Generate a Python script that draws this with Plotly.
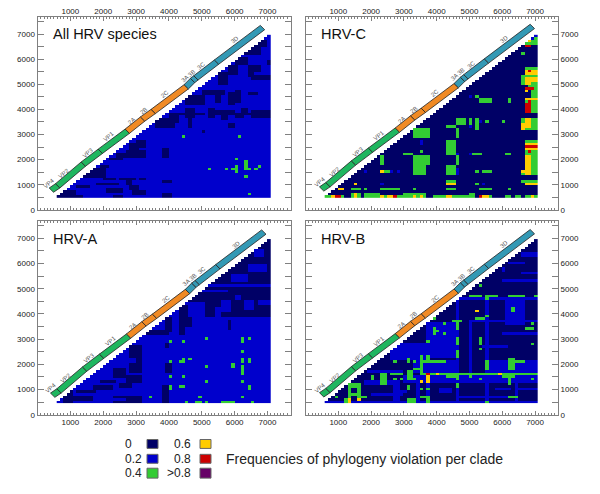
import numpy as np
import plotly.graph_objects as go

# colours for the six frequency classes
CLASS_COLORS = ['#000066', '#0000cc', '#33cc33', '#ffcc00', '#cc0000', '#660066']
LEGEND_LABELS = ['0', '0.2', '0.4', '0.6', '0.8', '>0.8']
LEGEND_TITLE = 'Frequencies of phylogeny violation per clade'
X_TICKS = [1000, 2000, 3000, 4000, 5000, 6000, 7000]
Y_TICKS = [0, 1000, 2000, 3000, 4000, 5000, 6000, 7000]

# gene map along the genome: name, end site (x), end site (y)
GENE_START = (422, 786)
GENE_ENDS = [('VP4', 615, 957), ('VP2', 1395, 1822), ('VP3', 1912, 2333), ('VP1', 2733, 3132),
             ('2A', 3199, 3617), ('2B', 3523, 3919), ('2C', 4527, 4902), ('3A', 4719, 5151),
             ('3B', 4821, 5256), ('3C', 5449, 5885), ('3D', 6848, 7261)]
GENE_COLORS = {'VP4': '#1fb65f', 'VP2': '#1fb65f', 'VP3': '#1fb65f', 'VP1': '#1fb65f',
               '2A': '#f08a24', '2B': '#f08a24', '2C': '#f08a24',
               '3A': '#3399b5', '3B': '#3399b5', '3C': '#3399b5', '3D': '#3399b5'}
GENE_LABELS = [('VP4', 361, 1061), ('VP2', 818, 1455), ('VP3', 1527, 2267), ('VP1', 2186, 2922),
               ('2A', 2865, 3538), ('2B', 3230, 3945), ('2C', 3878, 4600), ('3A 3B', 4588, 5347),
               ('3C', 4973, 5740), ('3D', 5997, 6762)]

# site labels of the matrix cells
SITES_X = list(range(600, 7100, 100))
SITES_Y = list(range(500, 7000, 100))

# each entry: x from, x to, y from, y to (sites, inclusive)
ALL_NAVY = [(600, 1300, 500, 500), (700, 1100, 600, 700), (3800, 4000, 500, 600), (1200, 1500, 900, 900),
            (2000, 2300, 1200, 1200), (1800, 2400, 1000, 1000), (2100, 2500, 700, 800), (2500, 2900, 1200, 1200),
            (2700, 2800, 1000, 1100), (2800, 3000, 800, 900), (2900, 3200, 600, 700), (2300, 2500, 500, 500),
            (3100, 3200, 1200, 1200), (3800, 4000, 1100, 1100), (1400, 2000, 1300, 1600), (1900, 2100, 1700, 1700),
            (2200, 2500, 2000, 2000), (2400, 2700, 2100, 2200), (2700, 3200, 2100, 2300), (3000, 3200, 2500, 2700),
            (2800, 3000, 2400, 2600), (3800, 3900, 2100, 2400), (3600, 4100, 3300, 3600), (4000, 4200, 3500, 3800),
            (4600, 4600, 3300, 3800), (4300, 5000, 3800, 3800), (5200, 5900, 3800, 3800), (6300, 7100, 3800, 3800),
            (4500, 4700, 3700, 4000), (5200, 5300, 3700, 4000), (5400, 5900, 3900, 3900), (5600, 5700, 3600, 3900),
            (6000, 6200, 3700, 3800), (6500, 7100, 3700, 3900), (6200, 6300, 3900, 4000), (5800, 5900, 3300, 3400),
            (5000, 5000, 3100, 3100), (5400, 5500, 4300, 4700), (5000, 5600, 4600, 4700), (5800, 5900, 4200, 4600),
            (6000, 6100, 4300, 4700), (6400, 6600, 4600, 4600), (6500, 7100, 5200, 5300), (6400, 6500, 5300, 5700),
            (6600, 6700, 5500, 5700), (7000, 7100, 5800, 5900), (6300, 6700, 6200, 6500), (6000, 6300, 5800, 6000),
            (5800, 6000, 5400, 5700), (5500, 5700, 5000, 5400), (6600, 6900, 6500, 6700), (4500, 5000, 4200, 4500)]
ALL_GREEN = [(4400, 4400, 2900, 2900), (6100, 6100, 2900, 2900), (6000, 6000, 2000, 2000), (6300, 6300, 1600, 1900),
             (6300, 6400, 1600, 1600), (5200, 5200, 1600, 1600), (5700, 5700, 1600, 1600), (6000, 6000, 1500, 1700),
             (5900, 5900, 1600, 1600), (6300, 6300, 1300, 1300), (6600, 6600, 1600, 1600), (6700, 6700, 1700, 1700),
             (6400, 6400, 600, 600)]

C_BLUE = [(6900, 7000, 6700, 6800), (7000, 7100, 6900, 7000), (3500, 3500, 2600, 2700), (3300, 3300, 1500, 1500),
          (3500, 3600, 1700, 1700), (4600, 4600, 2200, 2200), (4600, 4600, 1400, 1600), (5000, 5000, 2200, 2200),
          (5000, 5000, 4500, 4500), (2300, 2300, 1000, 1000), (1800, 1800, 1500, 1500), (2600, 2600, 1500, 1500),
          (2800, 2800, 1500, 1500), (5400, 5400, 1000, 1000), (5300, 5300, 3500, 3500), (4700, 4700, 3500, 3500),
          (5000, 5000, 3300, 3300), (6900, 6900, 1500, 1500), (7000, 7000, 1000, 1000), (6900, 6900, 3500, 3500),
          (6900, 6900, 4600, 4700)]
C_GREEN = [(6700, 7100, 6600, 6700), (7000, 7100, 6700, 6800), (6600, 6600, 6200, 6200), (6700, 7100, 5600, 5600),
           (6600, 7100, 5000, 5300), (6800, 7100, 4800, 4900), (6900, 7100, 4500, 4700), (6700, 7100, 4300, 4400),
           (6900, 7100, 3900, 4200), (6600, 7100, 3200, 3600), (6700, 7100, 2700, 2700), (6700, 7100, 2200, 2600),
           (6900, 7100, 1400, 2200), (6600, 6700, 1400, 1500), (6800, 6800, 1500, 1500), (7000, 7000, 1500, 1500),
           (6600, 7100, 1100, 1100), (3300, 3700, 2900, 3200), (3500, 3500, 2300, 2300), (3300, 3700, 1800, 2100),
           (3300, 3600, 1400, 1700), (3000, 3200, 2200, 2200), (2300, 2300, 1800, 2100), (2300, 2400, 1500, 1500),
           (2500, 2500, 1500, 1500), (2300, 2800, 800, 800), (3300, 3300, 800, 800), (1400, 1600, 800, 800),
           (1800, 1800, 800, 800), (4300, 4500, 2200, 2700), (4300, 4500, 1700, 1700), (4300, 4500, 1400, 1600),
           (4300, 4500, 1100, 1100), (4300, 4500, 800, 800), (4600, 4600, 1800, 2100), (4600, 4600, 2900, 3200),
           (4300, 4500, 3300, 3300), (4600, 4800, 3400, 3600), (5000, 5000, 3400, 3600), (5200, 5200, 3200, 3600),
           (5500, 5500, 3500, 3500), (6000, 6000, 3500, 3500), (5200, 5200, 4500, 4500), (5300, 5600, 4300, 4400),
           (6200, 6200, 4300, 4400), (5100, 5300, 2200, 2200), (6100, 6200, 2200, 2200), (5200, 5200, 1500, 1500),
           (5400, 5600, 1500, 1500), (5200, 5200, 1000, 1000), (5300, 5600, 800, 800), (6200, 6200, 800, 800),
           (600, 1100, 500, 500), (1400, 1600, 500, 600), (1800, 2200, 500, 600), (2300, 2900, 500, 500),
           (3000, 3600, 600, 600), (3000, 3600, 500, 500), (3900, 4200, 500, 500), (4300, 4900, 500, 500),
           (5000, 5100, 500, 600), (5300, 5600, 500, 500), (6100, 6200, 500, 500), (6400, 6500, 500, 500),
           (6700, 7000, 500, 500)]
C_YELLOW = [(6800, 6800, 6700, 6700), (6700, 6800, 5000, 5200), (6700, 7100, 5400, 5500), (6900, 7100, 5100, 5200),
            (6700, 6700, 4700, 4700), (6700, 6800, 4400, 4400), (6800, 7100, 4400, 4400), (6700, 6800, 3300, 3600),
            (6600, 6600, 3200, 3400), (6700, 7100, 2600, 2600), (6700, 6800, 1400, 2100), (6700, 7100, 2400, 2400),
            (6600, 6700, 1500, 1500), (6700, 7100, 1000, 1000), (1000, 1100, 800, 800), (1500, 1500, 1000, 1000),
            (1500, 1500, 600, 600), (800, 900, 500, 500), (1500, 1500, 500, 500), (2300, 2300, 1500, 1500),
            (2300, 2300, 500, 500), (2500, 2600, 500, 500), (3300, 3300, 500, 500), (3500, 3500, 500, 500),
            (4300, 4400, 500, 500), (4300, 4500, 1000, 1000), (5400, 5500, 500, 500), (6900, 6900, 500, 500)]
C_RED = [(6700, 6800, 6500, 6500), (6800, 6800, 5500, 5500), (6700, 6900, 4800, 4800), (6800, 6800, 4300, 4300),
         (6700, 6800, 3900, 4200), (6700, 7100, 2500, 2500), (6800, 6800, 2300, 2300), (900, 1000, 500, 500),
         (2700, 2700, 500, 500), (5300, 5300, 500, 500)]

A_NAVY = [(5000, 7100, 5200, 7000), (5100, 7100, 3900, 5000), (4500, 5000, 4500, 4800), (4300, 4500, 3900, 4300),
          (3900, 4000, 3300, 3800), (3200, 3900, 3200, 3300), (4300, 4400, 3200, 3800), (4500, 4600, 3500, 3800),
          (5800, 5800, 3400, 3700), (800, 1000, 500, 900), (1200, 1700, 900, 900), (1000, 1600, 600, 700),
          (1700, 2200, 1000, 1100), (2300, 3100, 500, 700), (2300, 2600, 1500, 1800), (2700, 3100, 1300, 1500),
          (2800, 3100, 1700, 2700), (2500, 2800, 1100, 1200), (1900, 2300, 1300, 1300), (3800, 3900, 500, 1100),
          (3900, 3900, 2700, 2800), (3900, 4000, 1700, 2000)]
A_BLUE = [(5900, 6300, 5300, 5500), (6400, 6900, 5700, 5900), (6600, 6800, 6300, 6500), (5600, 5800, 4100, 4500),
          (6300, 6500, 4200, 4500), (5400, 5500, 3900, 4200), (5100, 5700, 4900, 4900), (6000, 6100, 4600, 4700),
          (6700, 7100, 4400, 4500), (2500, 2900, 1000, 1000), (2800, 2900, 2100, 2200), (2000, 2600, 600, 600)]
A_GREEN = [(4000, 4000, 2900, 2900), (4400, 4400, 2900, 2900), (5100, 5100, 3000, 3000), (6200, 6200, 2900, 3000),
           (6400, 6400, 3000, 3000), (6200, 6200, 2500, 2500), (4000, 4000, 2100, 2100), (4300, 4400, 2100, 2100),
           (4400, 4400, 2200, 2200), (4600, 4600, 2200, 2200), (5900, 5900, 1900, 2000), (6200, 6200, 2100, 2200),
           (6400, 6400, 2100, 2200), (6200, 6200, 1900, 1900), (6200, 6200, 1600, 1800), (5100, 5100, 1900, 1900),
           (4000, 4000, 1500, 1500), (4400, 4400, 1500, 1500), (5100, 5100, 1300, 1300), (6200, 6200, 1300, 1300),
           (4000, 4000, 1000, 1100), (4300, 4400, 1100, 1100), (6400, 6400, 1000, 1100), (3400, 3400, 700, 700),
           (4900, 4900, 700, 700), (6200, 6200, 700, 700), (4500, 4500, 500, 500), (4800, 4900, 500, 500),
           (5100, 5100, 500, 500), (5600, 5800, 500, 500), (5900, 5900, 500, 500), (6500, 6500, 500, 500)]

B_BLUE = [(3000, 7100, 1300, 1500), (5500, 7100, 1700, 2100), (3300, 4600, 1700, 2100), (3700, 4500, 2300, 3600),
          (4600, 4600, 500, 4700), (5500, 5500, 500, 4600), (3700, 3700, 500, 3800), (6100, 6600, 3600, 4500),
          (4700, 7100, 4600, 4600), (5000, 7000, 3700, 3700), (6000, 7100, 5300, 5300), (6600, 7000, 6300, 6400),
          (6200, 6600, 6000, 6000), (6000, 6000, 5700, 5800), (6600, 7000, 5600, 5600), (2600, 3600, 2200, 2800),
          (600, 7100, 500, 500), (2700, 2800, 500, 1300), (3400, 3400, 500, 1300), (1900, 2900, 1700, 1700),
          (6000, 7100, 3200, 3200), (5000, 5000, 1700, 3600), (5400, 6100, 2700, 2700), (6400, 6400, 500, 1200),
          (2900, 3000, 900, 900), (4100, 4400, 900, 1000), (5800, 6200, 1000, 1000), (1800, 2600, 1200, 1300),
          (2000, 2900, 800, 800), (4700, 5400, 700, 700), (5600, 6100, 700, 700), (6500, 7100, 1000, 1000)]
B_GREEN = [(1300, 1600, 1100, 1200), (1300, 1300, 500, 1200), (1600, 1600, 700, 1200), (1400, 1500, 800, 800),
           (1600, 1800, 700, 700), (1200, 1300, 500, 600), (900, 900, 700, 700), (2000, 2000, 1400, 1500),
           (2300, 2400, 1200, 1600), (2600, 2900, 1600, 1600), (2700, 2700, 2100, 2100), (2700, 2700, 1400, 1400),
           (2900, 2900, 1400, 1400), (3100, 3100, 2100, 2200), (3100, 3300, 1400, 1400), (3100, 3200, 1500, 1700),
           (3300, 3300, 2100, 2100), (3100, 3100, 1000, 1100), (3100, 3300, 500, 600), (3500, 3500, 1700, 2300),
           (3300, 3500, 1800, 1800), (3700, 3700, 2100, 2300), (3600, 4200, 2100, 2100), (3500, 7100, 1600, 1600),
           (6000, 6300, 1500, 1500), (6200, 6200, 1200, 1400), (3500, 3500, 1000, 1000), (3700, 3700, 1000, 1000),
           (3500, 3700, 700, 700), (3700, 3700, 500, 700), (4300, 4600, 1500, 1500), (4600, 4600, 2300, 2500),
           (4600, 4600, 1400, 1600), (4600, 4600, 1100, 1200), (3900, 4000, 3300, 3300), (3900, 3900, 3200, 3400),
           (4200, 4200, 3200, 3200), (4200, 4200, 3600, 3600), (4500, 4700, 3700, 3700), (4600, 4600, 3400, 3600),
           (3700, 3900, 3800, 3800), (3700, 3700, 2900, 2900), (5300, 5300, 2800, 3000), (5300, 5300, 2600, 2600),
           (4600, 4600, 2800, 3000), (5000, 5200, 4700, 4700), (5300, 5300, 4700, 4700), (5500, 5800, 4700, 4700),
           (6200, 6600, 4700, 4700), (7000, 7000, 4700, 4700), (5500, 5500, 4600, 4600), (5300, 5300, 5100, 5100),
           (5200, 5400, 3800, 3800), (5500, 5500, 3900, 3900), (6300, 6300, 4100, 4200), (6900, 6900, 3600, 3600),
           (6700, 6900, 3400, 3400), (6900, 6900, 2800, 2800), (5000, 5000, 1500, 1500), (5300, 5300, 1400, 1400),
           (5500, 5500, 1800, 2100), (6200, 6600, 2100, 2100), (6200, 6300, 1800, 2200), (6900, 6900, 1400, 1400),
           (5500, 5500, 500, 500), (6200, 6400, 700, 700)]
B_YELLOW = [(1300, 1300, 500, 600), (1600, 1600, 600, 600), (3700, 3700, 1300, 1500), (3500, 3500, 1300, 1300),
            (4000, 4000, 1600, 1600), (5900, 5900, 1600, 1600), (5200, 5200, 4100, 4100)]
B_RED = [(3700, 3700, 1600, 1600)]


def build_matrix(base, layers):
    # lower right triangle of the site by site matrix, upper left stays empty
    z = np.full((len(SITES_Y), len(SITES_X)), np.nan)
    for j in range(len(SITES_Y)):
        z[j, j:] = base
    for level, rects in layers:
        for x0, x1, y0, y1 in rects:
            for y in range(y0, y1 + 100, 100):
                for x in range(x0, x1 + 100, 100):
                    if x in SITES_X and y in SITES_Y:
                        i, j = SITES_X.index(x), SITES_Y.index(y)
                        if i >= j:
                            z[j, i] = level
    return z


PANELS = [
    dict(title='All HRV species', base=1, layers=[(0, ALL_NAVY), (2, ALL_GREEN)], shift=(0, 0),
         dom=(37.5, 290.5, 16.7, 212), xside='top', yside='left'),
    dict(title='HRV-C', base=0, layers=[(1, C_BLUE), (2, C_GREEN), (3, C_YELLOW), (4, C_RED)], shift=(70, 45),
         dom=(305.5, 558, 16.7, 212), xside='top', yside='right'),
    dict(title='HRV-A', base=1, layers=[(0, A_NAVY), (1, A_BLUE), (2, A_GREEN)], shift=(40, -10),
         dom=(37.5, 290.5, 223, 419), xside='bottom', yside='left'),
    dict(title='HRV-B', base=0, layers=[(1, B_BLUE), (2, B_GREEN), (3, B_YELLOW), (4, B_RED)], shift=(70, 5),
         dom=(305.5, 558, 223, 419), xside='bottom', yside='right'),
]

W, H = 600, 494
AXIS_COLOR = '#808080'
FONT = 'Liberation Sans'
colorscale = []
for k, c in enumerate(CLASS_COLORS):
    colorscale += [[k / 6, c], [(k + 1) / 6, c]]

fig = go.Figure()
shapes = []
annotations = []
for n, p in enumerate(PANELS, start=1):
    xa, ya = f'x{n}', f'y{n}'
    fig.add_trace(go.Heatmap(
        x=[s + 35 for s in SITES_X], y=[s + 22 for s in SITES_Y],
        z=build_matrix(p['base'], p['layers']),
        colorscale=colorscale, zmin=-0.5, zmax=5.5, showscale=False, hoverongaps=False,
        xaxis=xa, yaxis=ya))
    x0, x1, y0, y1 = p['dom']
    fig.update_layout({
        f'xaxis{n}': dict(domain=[x0 / W, x1 / W], range=[0, 7700], side=p['xside'], anchor=ya,
                          tickvals=X_TICKS, ticks='inside', ticklen=4, tickcolor=AXIS_COLOR, tickwidth=1,
                          showgrid=False, zeroline=False, showline=True, linecolor=AXIS_COLOR, mirror='ticks',
                          minor=dict(dtick=100, ticks='inside', ticklen=2, tickcolor=AXIS_COLOR, showgrid=False),
                          tickfont=dict(family=FONT, size=8, color='#222222'),
                          ticklabelstandoff=-2 if p['xside'] == 'top' else 0),
        f'yaxis{n}': dict(domain=[1 - y1 / H, 1 - y0 / H], range=[0, 7700], side=p['yside'], anchor=xa,
                          tickvals=Y_TICKS, ticks='inside', ticklen=6, tickcolor=AXIS_COLOR, tickwidth=1,
                          showgrid=False, zeroline=False, showline=True, linecolor=AXIS_COLOR, mirror='ticks',
                          minor=dict(dtick=500, ticks='inside', ticklen=6, tickcolor=AXIS_COLOR, showgrid=False),
                          tickfont=dict(family=FONT, size=8, color='#222222')),
    })
    # gene bar above the diagonal
    sx, sy = p['shift']
    prev = GENE_START
    for name, gx, gy in GENE_ENDS:
        ax, ay = prev[0] + sx, prev[1] + sy
        bx, by = gx + sx, gy + sy
        shapes.append(dict(type='path', xref=xa, yref=ya, fillcolor=GENE_COLORS[name],
                           line=dict(color='#222222', width=0.8),
                           path=f'M{ax - 66},{ay + 85} L{bx - 66},{by + 85} L{bx + 66},{by - 85} L{ax + 66},{ay - 85} Z'))
        prev = (gx, gy)
    for text, lx, ly in GENE_LABELS:
        annotations.append(dict(x=lx + sx, y=ly + sy, xref=xa, yref=ya, text=text, showarrow=False, textangle=-40,
                                font=dict(family=FONT, size=6, color='#555555')))
    annotations.append(dict(x=(x0 + 13.5) / W, y=1 - (y0 + 18) / H, xref='paper', yref='paper', text=p['title'],
                            showarrow=False, xanchor='left', yanchor='middle',
                            font=dict(family=FONT, size=14.5, color='#111111')))

# legend swatches and labels
SWATCH_ROWS = [(444, 453), (459, 468), (473, 483)]
for k, label in enumerate(LEGEND_LABELS):
    col, row = k // 3, k % 3
    sx0 = 147 if col == 0 else 200
    ry0, ry1 = SWATCH_ROWS[row]
    shapes.append(dict(type='rect', xref='paper', yref='paper', x0=sx0 / W, x1=(sx0 + 11) / W,
                       y0=1 - ry1 / H, y1=1 - ry0 / H, fillcolor=CLASS_COLORS[k],
                       line=dict(color='#666666', width=1)))
    annotations.append(dict(x=(123 if col == 0 else 193) / W, y=1 - (ry0 + ry1) / 2 / H, xref='paper', yref='paper',
                            text=label, showarrow=False, xanchor='left' if col == 0 else 'right', yanchor='middle',
                            font=dict(family=FONT, size=12, color='#222222')))
annotations.append(dict(x=224 / W, y=1 - 464 / H, xref='paper', yref='paper', text=LEGEND_TITLE, showarrow=False,
                        xanchor='left', yanchor='middle', font=dict(family=FONT, size=14, color='#222222')))

fig.update_layout(width=W, height=H, margin=dict(l=0, r=0, t=0, b=0), paper_bgcolor='white', plot_bgcolor='white',
                  shapes=shapes, annotations=annotations, showlegend=False)
fig.write_html("out.html", config={'displayModeBar': False}, post_script="document.body.style.margin='0';")
